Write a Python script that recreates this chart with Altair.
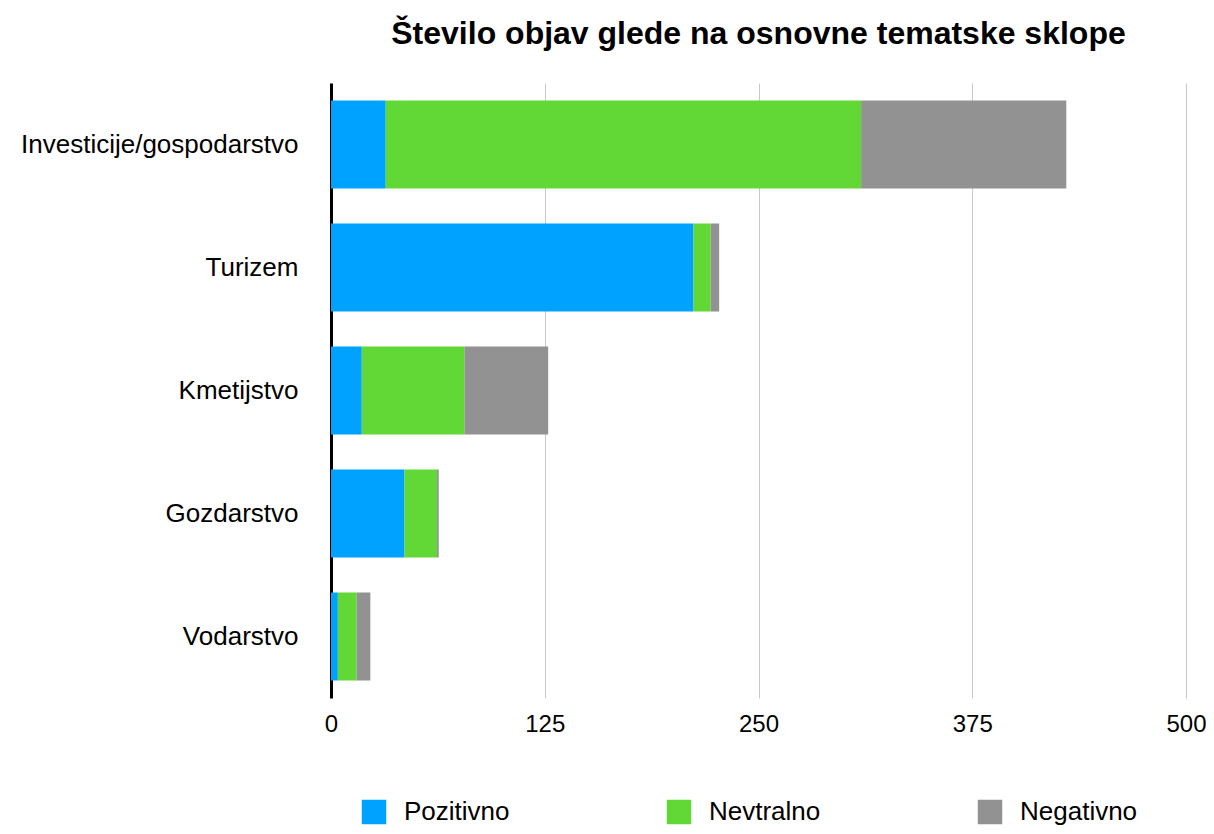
import altair as alt
import pandas as pd

categories = ["Investicije/gospodarstvo", "Turizem", "Kmetijstvo", "Gozdarstvo", "Vodarstvo"]
series = ["Pozitivno", "Nevtralno", "Negativno"]
pozitivno = [32, 212, 18, 43, 4]
nevtralno = [278, 10, 60, 19, 11]
negativno = [120, 5, 49, 1, 8]
colors = ["#00A2FF", "#61D836", "#929292"]

rows = []
for i, c in enumerate(categories):
    for j, (s, vals) in enumerate(zip(series, [pozitivno, nevtralno, negativno])):
        rows.append({"Tema": c, "Ton": s, "Število": vals[i], "ord": j})
df = pd.DataFrame(rows)

FONT = "Liberation Sans"

chart = alt.Chart(df).mark_bar().encode(
    y=alt.Y("Tema:N", sort=categories, title=None,
            scale=alt.Scale(paddingInner=0.285, paddingOuter=0.1425),
            axis=alt.Axis(labelFontSize=26, labelColor="black", labelPadding=33,
                          ticks=False, domain=True, domainColor="black", domainWidth=3,
                          labelFont=FONT, grid=False, labelLimit=400)),
    x=alt.X("Število:Q", title=None, stack="zero",
            scale=alt.Scale(domain=[0, 500], nice=False),
            axis=alt.Axis(values=[0, 125, 250, 375, 500], labelFontSize=24, labelColor="black",
                          labelPadding=14, ticks=False, domain=False, grid=True,
                          labelFlush=False, labelOverlap=False,
                          gridColor="#c8c8c8", gridWidth=1, labelFont=FONT)),
    color=alt.Color("Ton:N", sort=series,
                    scale=alt.Scale(domain=series, range=colors),
                    legend=alt.Legend(title=None, orient="none", legendX=30, legendY=716,
                                      direction="horizontal", symbolType="square",
                                      symbolSize=600, symbolStrokeWidth=0, labelFontSize=26,
                                      labelFont=FONT, labelColor="black", labelOffset=17,
                                      columnPadding=156, symbolOpacity=1)),
    order=alt.Order("ord:Q"),
).properties(
    width=855,
    height=615,
    autosize=alt.AutoSizeParams(type="none"),
    padding={"left": 323, "top": 75, "right": 20, "bottom": 128},
    title=alt.TitleParams("Število objav glede na osnovne tematske sklope", fontSize=32,
                          font=FONT, fontWeight="bold", color="black", anchor="middle",
                          offset=32),
).configure_view(stroke=None)

chart.save("out.html", embed_options={"renderer": "svg", "actions": False})
